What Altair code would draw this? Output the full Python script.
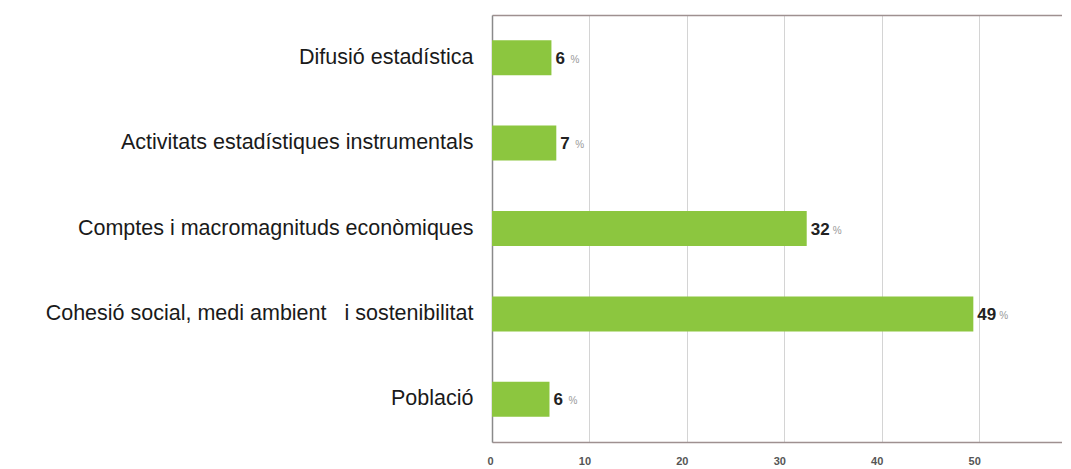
import altair as alt
import pandas as pd

categories = [
    "Difusió estadística",
    "Activitats estadístiques  instrumentals",
    "Comptes i macromagnituds  econòmiques",
    "Cohesió social, medi ambient \u00a0 i sostenibilitat",
    "Població",
]
values = [6.1, 6.6, 32.3, 49.4, 5.9]
labels = ["6", "7", "32", "49", "6"]
x_ticks = [0, 10, 20, 30, 40, 50]

df = pd.DataFrame({"cat": categories, "val": values, "lab": labels})

FONT = "Liberation Sans"
GREEN = "#8cc63f"
AXC = "#9e9090"

yenc = alt.Y(
    "cat:N",
    sort=categories,
    title=None,
    scale=alt.Scale(paddingInner=0.59, paddingOuter=0.295),
    axis=alt.Axis(
        labelFont=FONT,
        labelFontSize=21.5,
        labelColor="#1a1a1a",
        labelPadding=19,
        labelLimit=600,
        ticks=False,
        domainColor="#8a8a8a",
        domainWidth=1.5,
        grid=False,
    ),
)

xscale = alt.Scale(domain=[0, 58.5], nice=False)

bars = alt.Chart(df).mark_bar(color=GREEN).encode(
    x=alt.X(
        "val:Q",
        scale=xscale,
        title=None,
        axis=alt.Axis(
            orient="bottom",
            values=x_ticks,
            grid=True,
            gridColor="#d4d4d4",
            gridWidth=1,
            ticks=False,
            domainColor=AXC,
            domainWidth=1.5,
            labelFont=FONT,
            labelFontSize=11,
            labelFontWeight="bold",
            labelColor="#555555",
            labelPadding=13,
            labelOffset=-5,
        ),
    ),
    y=yenc,
)

nums = alt.Chart(df).mark_text(
    align="left", baseline="middle", dx=4, dy=1,
    font=FONT, fontSize=17, fontWeight="bold", color="#222222",
).encode(
    x=alt.X(
        "val:Q",
        scale=xscale,
        title=None,
        axis=alt.Axis(
            orient="top", labels=False, ticks=False, grid=False,
            domainColor=AXC, domainWidth=1.5,
        ),
    ),
    y=yenc,
    text="lab:N",
)

pct1 = alt.Chart(df).transform_filter("datum.val < 9.5").mark_text(
    align="left", baseline="middle", dx=19, dy=2,
    font=FONT, fontSize=10, color="#999999",
).encode(
    x=alt.X("val:Q", scale=xscale, axis=None),
    y=yenc,
    text=alt.value("%"),
)

pct2 = alt.Chart(df).transform_filter("datum.val >= 9.5").mark_text(
    align="left", baseline="middle", dx=26, dy=2,
    font=FONT, fontSize=10, color="#999999",
).encode(
    x=alt.X("val:Q", scale=xscale, axis=None),
    y=yenc,
    text=alt.value("%"),
)

chart = (
    alt.layer(bars, nums, pct1, pct2)
    .resolve_axis(x="independent")
    .properties(
        width=570,
        height=427,
        autosize=alt.AutoSizeParams(type="none"),
        padding={"left": 484, "top": 7, "right": 0, "bottom": 24},
        background="white",
    )
    .configure_view(stroke=None)
)

chart.save("out.html", embed_options={"renderer": "svg", "actions": False})
